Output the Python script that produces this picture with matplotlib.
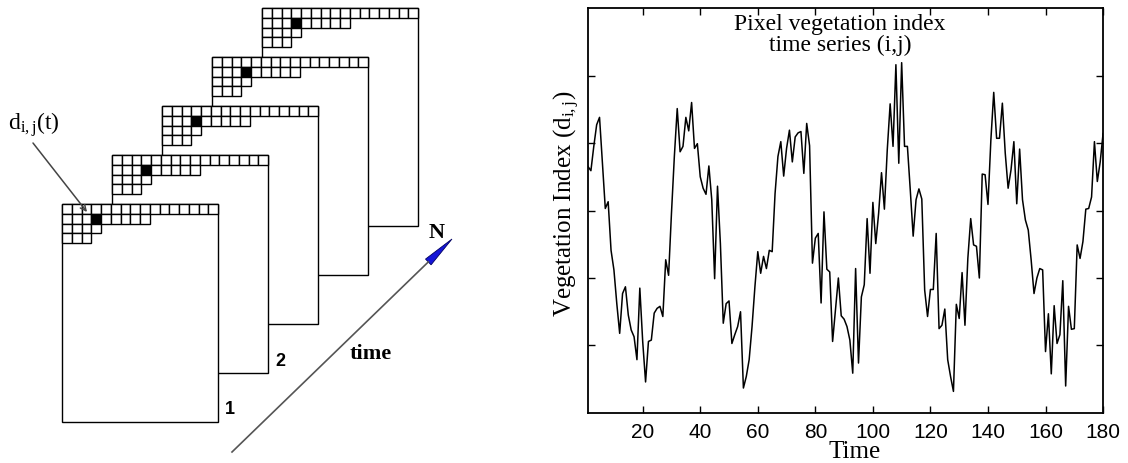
import numpy as np
import matplotlib
matplotlib.use('Agg')
import matplotlib.pyplot as plt
from matplotlib.patches import Rectangle, Polygon

# vegetation index time series of one pixel (i,j)
time = np.arange(1, 181)
vi = np.array([
    0.465, 0.459, 0.495, 0.527, 0.538, 0.470, 0.403, 0.413, 0.341, 0.312,
    0.262, 0.218, 0.277, 0.287, 0.245, 0.223, 0.213, 0.179, 0.285, 0.206,
    0.146, 0.206, 0.208, 0.248, 0.255, 0.258, 0.243, 0.327, 0.304, 0.396,
    0.480, 0.551, 0.487, 0.495, 0.538, 0.518, 0.560, 0.492, 0.499, 0.450,
    0.433, 0.424, 0.466, 0.416, 0.299, 0.436, 0.351, 0.233, 0.262, 0.266,
    0.203, 0.216, 0.228, 0.250, 0.137, 0.154, 0.179, 0.228, 0.287, 0.339,
    0.307, 0.332, 0.314, 0.341, 0.339, 0.425, 0.480, 0.502, 0.451, 0.492,
    0.519, 0.472, 0.509, 0.515, 0.517, 0.455, 0.529, 0.496, 0.322, 0.359,
    0.366, 0.263, 0.398, 0.313, 0.309, 0.206, 0.253, 0.300, 0.244, 0.239,
    0.228, 0.208, 0.159, 0.314, 0.174, 0.272, 0.290, 0.388, 0.307, 0.412,
    0.351, 0.396, 0.456, 0.402, 0.490, 0.558, 0.495, 0.616, 0.470, 0.619,
    0.495, 0.495, 0.430, 0.362, 0.416, 0.432, 0.417, 0.282, 0.243, 0.283,
    0.283, 0.366, 0.225, 0.230, 0.254, 0.179, 0.154, 0.132, 0.261, 0.240,
    0.308, 0.230, 0.329, 0.388, 0.349, 0.347, 0.300, 0.454, 0.453, 0.409,
    0.504, 0.575, 0.507, 0.507, 0.559, 0.485, 0.433, 0.460, 0.502, 0.410,
    0.491, 0.416, 0.386, 0.371, 0.327, 0.277, 0.300, 0.314, 0.312, 0.191,
    0.247, 0.158, 0.259, 0.203, 0.216, 0.296, 0.140, 0.258, 0.224, 0.225,
    0.349, 0.329, 0.354, 0.402, 0.403, 0.420, 0.502, 0.443, 0.472, 0.514,
])
xticks = [20, 40, 60, 80, 100, 120, 140, 160, 180]
yticks = [0.2, 0.3, 0.4, 0.5, 0.6]

# image stack on the left: frames, cells drawn in each corner, pixel (i,j)
n_frames = 5
frame_labels = ['1', '2']
row_cells = [16, 9, 4, 3]
pixel_cell = (1, 3)

serif = 'Liberation Serif'
plt.rcParams['font.family'] = 'Liberation Sans'
plt.rcParams['mathtext.fontset'] = 'custom'
plt.rcParams['mathtext.rm'] = serif
plt.rcParams['mathtext.it'] = serif + ':italic'

fig = plt.figure(figsize=(11.28, 4.63), dpi=100)

# ---- left: stack of images in pixel units
ax0 = fig.add_axes([0, 0, 0.5, 1])
ax0.set_xlim(0, 564)
ax0.set_ylim(463, 0)
ax0.axis('off')

cell = 9.75
fw, fh = row_cells[0] * cell, 218
for k in reversed(range(n_frames)):
    x0 = 62 + 50 * k
    y0 = 204 - 49 * k
    ax0.add_patch(Rectangle((x0, y0), fw, fh, fc='white', ec='black', lw=1.0))
    for r, n in enumerate(row_cells):
        for c in range(n):
            fc = 'black' if (r, c) == pixel_cell else 'white'
            ax0.add_patch(Rectangle((x0 + c * cell, y0 + r * cell), cell, cell,
                                    fc=fc, ec='black', lw=1.0))
    if k < len(frame_labels):
        ax0.text(x0 + fw + 12, y0 + fh - 12, frame_labels[k], fontsize=13,
                 fontweight='bold', ha='center', va='center')

# time axis with north-pointing head
tail = np.array([232.0, 452.0])
tip = np.array([452.0, 239.0])
u = (tip - tail) / np.linalg.norm(tip - tail)
n = np.array([-u[1], u[0]])
base = tip - 33 * u
ax0.plot([tail[0], base[0]], [tail[1], base[1]], color='#555555', lw=1.2)
ax0.add_patch(Polygon([tip, base + 4 * n, base - 4 * n], closed=True,
                      fc='#1414d8', ec='#000060', lw=0.6))
ax0.text(437, 233, 'N', family=serif, fontsize=16, fontweight='bold',
         ha='center', va='center')
ax0.text(371, 354, 'time', family=serif, fontsize=16, fontweight='bold',
         ha='center', va='center')

ax0.annotate('', xy=(87, 212), xytext=(33, 143),
             arrowprops=dict(arrowstyle='->', color='#444444', lw=1.1,
                             shrinkA=0, shrinkB=0))
ax0.text(34, 125, r'$\mathrm{d_{i,j}(t)}$', fontsize=17, ha='center', va='center')

# ---- right: time series
ax = fig.add_axes([0.5213, 0.108, 0.4566, 0.8747])
ax.plot(time, vi, color='black', lw=1.1)
ax.set_xlim(1, 180)
ax.set_ylim(0.1, 0.7)
ax.set_xticks(xticks)
ax.set_yticks(yticks)
ax.set_yticklabels([])
ax.tick_params(direction='in', top=True, right=True, length=5, width=1,
               labelsize=15, pad=7)
for s in ax.spines.values():
    s.set_linewidth(1.3)

ax.text(0.489, 0.985, 'Pixel vegetation index\ntime series (i,j)',
        transform=ax.transAxes, ha='center', va='top', family=serif,
        fontsize=17, linespacing=1.0)
ax.set_ylabel(r'Vegetation Index (d$_{\mathrm{i,j}}$)', family=serif, fontsize=18)
ax.yaxis.set_label_coords(-0.012, 0.516)
ax.set_xlabel('Time', family=serif, fontsize=18)
ax.xaxis.set_label_coords(0.518, -0.07)

fig.savefig('out.png', dpi=100)
